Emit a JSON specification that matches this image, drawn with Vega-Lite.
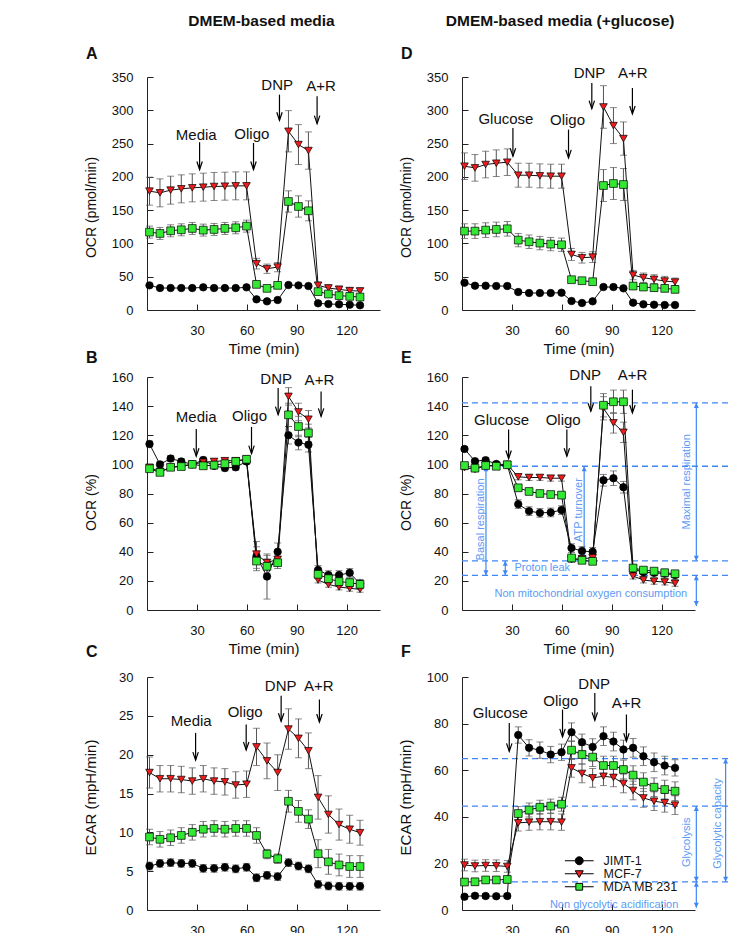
{
"$schema":"https://vega.github.io/schema/vega-lite/v6.json",
"autosize":{"type":"none"},
"padding":{"left":147,"top":77,"right":584,"bottom":856},
"background":"white",
"config":{
 "font":"Liberation Sans",
 "view":{"stroke":null},
 "axis":{"grid":false,"domainColor":"#222","tickColor":"#222","tickSize":-6,"labelFontSize":13,"labelColor":"#111","titleFontSize":15,"titleFontWeight":"normal","titleColor":"#111","labelPadding":20,"labelFlush":false,"labelOverlap":false},
 "axisX":{"titleX":116.5,"titleY":43.5,"titleBaseline":"alphabetic"},
 "axisY":{"titleX":-49,"titleBaseline":"bottom","titleFontSize":14},
 "title":{"anchor":"start","frame":"group","dx":-61,"fontSize":16,"fontWeight":"bold","offset":16,"color":"#111"},
 "text":{"fontSize":15,"color":"#111"}
},
"datasets":{
"pts":[
{"p":"A","s":"J","t":1.5,"v":37,"e":2},{"p":"A","s":"J","t":7.8,"v":33,"e":2},{"p":"A","s":"J","t":14.2,"v":33,"e":2},{"p":"A","s":"J","t":20.6,"v":33,"e":2},{"p":"A","s":"J","t":27.2,"v":33,"e":2},{"p":"A","s":"J","t":33.8,"v":34,"e":2},{"p":"A","s":"J","t":40.3,"v":33,"e":2},{"p":"A","s":"J","t":46.8,"v":33,"e":2},{"p":"A","s":"J","t":53.3,"v":33,"e":2},{"p":"A","s":"J","t":59.8,"v":34,"e":2},{"p":"A","s":"J","t":65.8,"v":16,"e":2},{"p":"A","s":"J","t":72.1,"v":13,"e":2},{"p":"A","s":"J","t":78.5,"v":15,"e":2},{"p":"A","s":"J","t":85,"v":37.5,"e":2},{"p":"A","s":"J","t":91,"v":37,"e":2},{"p":"A","s":"J","t":97,"v":36,"e":2},{"p":"A","s":"J","t":102.8,"v":10,"e":2},{"p":"A","s":"J","t":109,"v":9,"e":2},{"p":"A","s":"J","t":115.4,"v":8.5,"e":2},{"p":"A","s":"J","t":121.8,"v":8,"e":2},{"p":"A","s":"J","t":128,"v":7,"e":2},
{"p":"A","s":"M","t":1.5,"v":178.5,"e":21},{"p":"A","s":"M","t":7.8,"v":176,"e":21},{"p":"A","s":"M","t":14.2,"v":180,"e":21},{"p":"A","s":"M","t":20.6,"v":182,"e":21},{"p":"A","s":"M","t":27.2,"v":183.5,"e":21},{"p":"A","s":"M","t":33.8,"v":184.5,"e":21},{"p":"A","s":"M","t":40.3,"v":185.5,"e":21},{"p":"A","s":"M","t":46.8,"v":186,"e":21},{"p":"A","s":"M","t":53.3,"v":186.5,"e":21},{"p":"A","s":"M","t":59.8,"v":186.5,"e":21},{"p":"A","s":"M","t":65.8,"v":69.6,"e":8},{"p":"A","s":"M","t":72.1,"v":62,"e":7},{"p":"A","s":"M","t":78.5,"v":64.5,"e":7},{"p":"A","s":"M","t":85,"v":268.5,"e":31},{"p":"A","s":"M","t":91,"v":248.5,"e":30},{"p":"A","s":"M","t":97,"v":239.5,"e":28},{"p":"A","s":"M","t":102.8,"v":37,"e":5},{"p":"A","s":"M","t":109,"v":33,"e":5},{"p":"A","s":"M","t":115.4,"v":31,"e":5},{"p":"A","s":"M","t":121.8,"v":29,"e":5},{"p":"A","s":"M","t":128,"v":28.5,"e":5},
{"p":"A","s":"G","t":1.5,"v":117,"e":9},{"p":"A","s":"G","t":7.8,"v":115,"e":9},{"p":"A","s":"G","t":14.2,"v":119,"e":9},{"p":"A","s":"G","t":20.6,"v":120.5,"e":9},{"p":"A","s":"G","t":27.2,"v":122.5,"e":9},{"p":"A","s":"G","t":33.8,"v":120,"e":9},{"p":"A","s":"G","t":40.3,"v":121,"e":9},{"p":"A","s":"G","t":46.8,"v":122.5,"e":9},{"p":"A","s":"G","t":53.3,"v":123.5,"e":9},{"p":"A","s":"G","t":59.8,"v":126,"e":9},{"p":"A","s":"G","t":65.8,"v":38.5,"e":3},{"p":"A","s":"G","t":72.1,"v":32.5,"e":3},{"p":"A","s":"G","t":78.5,"v":37,"e":3},{"p":"A","s":"G","t":85,"v":163,"e":16},{"p":"A","s":"G","t":91,"v":155.5,"e":16},{"p":"A","s":"G","t":97,"v":149,"e":15},{"p":"A","s":"G","t":102.8,"v":27.6,"e":3},{"p":"A","s":"G","t":109,"v":24,"e":3},{"p":"A","s":"G","t":115.4,"v":21.6,"e":3},{"p":"A","s":"G","t":121.8,"v":20.5,"e":3},{"p":"A","s":"G","t":128,"v":19.5,"e":3},
{"p":"B","s":"J","t":1.5,"v":114,"e":2},{"p":"B","s":"J","t":7.8,"v":100,"e":2},{"p":"B","s":"J","t":14.2,"v":104,"e":2},{"p":"B","s":"J","t":20.6,"v":102,"e":2},{"p":"B","s":"J","t":27.2,"v":100,"e":2},{"p":"B","s":"J","t":33.8,"v":103,"e":2},{"p":"B","s":"J","t":40.3,"v":99,"e":2},{"p":"B","s":"J","t":46.8,"v":97.5,"e":2},{"p":"B","s":"J","t":53.3,"v":98,"e":2},{"p":"B","s":"J","t":59.8,"v":102,"e":2},{"p":"B","s":"J","t":65.8,"v":37,"e":10},{"p":"B","s":"J","t":72.1,"v":23,"e":15.5},{"p":"B","s":"J","t":78.5,"v":40,"e":6},{"p":"B","s":"J","t":85,"v":120,"e":6},{"p":"B","s":"J","t":91,"v":115,"e":5},{"p":"B","s":"J","t":97,"v":113.5,"e":5},{"p":"B","s":"J","t":102.8,"v":27.5,"e":3},{"p":"B","s":"J","t":109,"v":24,"e":3},{"p":"B","s":"J","t":115.4,"v":24,"e":3},{"p":"B","s":"J","t":121.8,"v":25.5,"e":3},{"p":"B","s":"J","t":128,"v":18,"e":3},
{"p":"B","s":"M","t":1.5,"v":98,"e":2},{"p":"B","s":"M","t":7.8,"v":95,"e":2},{"p":"B","s":"M","t":14.2,"v":98,"e":2},{"p":"B","s":"M","t":20.6,"v":99,"e":2},{"p":"B","s":"M","t":27.2,"v":100,"e":2},{"p":"B","s":"M","t":33.8,"v":101.5,"e":2},{"p":"B","s":"M","t":40.3,"v":102,"e":2},{"p":"B","s":"M","t":46.8,"v":102.5,"e":2},{"p":"B","s":"M","t":53.3,"v":102.5,"e":2},{"p":"B","s":"M","t":59.8,"v":103.5,"e":2},{"p":"B","s":"M","t":65.8,"v":38.4,"e":5},{"p":"B","s":"M","t":72.1,"v":32.5,"e":5},{"p":"B","s":"M","t":78.5,"v":34.8,"e":4},{"p":"B","s":"M","t":85,"v":146.7,"e":6},{"p":"B","s":"M","t":91,"v":136,"e":6},{"p":"B","s":"M","t":97,"v":131,"e":6},{"p":"B","s":"M","t":102.8,"v":20.6,"e":2},{"p":"B","s":"M","t":109,"v":17.6,"e":2},{"p":"B","s":"M","t":115.4,"v":15.8,"e":2},{"p":"B","s":"M","t":121.8,"v":14.9,"e":2},{"p":"B","s":"M","t":128,"v":14.2,"e":2},
{"p":"B","s":"G","t":1.5,"v":97,"e":2},{"p":"B","s":"G","t":7.8,"v":94.5,"e":2},{"p":"B","s":"G","t":14.2,"v":98,"e":2},{"p":"B","s":"G","t":20.6,"v":98.5,"e":2},{"p":"B","s":"G","t":27.2,"v":100,"e":2},{"p":"B","s":"G","t":33.8,"v":99,"e":2},{"p":"B","s":"G","t":40.3,"v":99.5,"e":2},{"p":"B","s":"G","t":46.8,"v":100.5,"e":2},{"p":"B","s":"G","t":53.3,"v":102,"e":2},{"p":"B","s":"G","t":59.8,"v":103.5,"e":2},{"p":"B","s":"G","t":65.8,"v":33.6,"e":5},{"p":"B","s":"G","t":72.1,"v":30,"e":5},{"p":"B","s":"G","t":78.5,"v":32.5,"e":4},{"p":"B","s":"G","t":85,"v":134,"e":8},{"p":"B","s":"G","t":91,"v":126,"e":7},{"p":"B","s":"G","t":97,"v":121.6,"e":6},{"p":"B","s":"G","t":102.8,"v":24.5,"e":3},{"p":"B","s":"G","t":109,"v":21.5,"e":3},{"p":"B","s":"G","t":115.4,"v":19.5,"e":3},{"p":"B","s":"G","t":121.8,"v":18.8,"e":3},{"p":"B","s":"G","t":128,"v":17.6,"e":3},
{"p":"C","s":"J","t":1.5,"v":5.66,"e":0.5},{"p":"C","s":"J","t":7.8,"v":6,"e":0.5},{"p":"C","s":"J","t":14.2,"v":6.1,"e":0.5},{"p":"C","s":"J","t":20.6,"v":6,"e":0.5},{"p":"C","s":"J","t":27.2,"v":6,"e":0.5},{"p":"C","s":"J","t":33.8,"v":5.36,"e":0.5},{"p":"C","s":"J","t":40.3,"v":5.36,"e":0.5},{"p":"C","s":"J","t":46.8,"v":5.5,"e":0.5},{"p":"C","s":"J","t":53.3,"v":5.3,"e":0.5},{"p":"C","s":"J","t":59.8,"v":5.5,"e":0.5},{"p":"C","s":"J","t":65.8,"v":4.15,"e":0.5},{"p":"C","s":"J","t":72.1,"v":4.46,"e":0.5},{"p":"C","s":"J","t":78.5,"v":4.3,"e":0.5},{"p":"C","s":"J","t":85,"v":6.1,"e":0.5},{"p":"C","s":"J","t":91,"v":5.66,"e":0.5},{"p":"C","s":"J","t":97,"v":5.3,"e":0.5},{"p":"C","s":"J","t":102.8,"v":3.3,"e":0.5},{"p":"C","s":"J","t":109,"v":3.1,"e":0.5},{"p":"C","s":"J","t":115.4,"v":3.05,"e":0.5},{"p":"C","s":"J","t":121.8,"v":3.05,"e":0.5},{"p":"C","s":"J","t":128,"v":3.05,"e":0.5},
{"p":"C","s":"M","t":1.5,"v":17.7,"e":2},{"p":"C","s":"M","t":7.8,"v":16.9,"e":1.7},{"p":"C","s":"M","t":14.2,"v":16.9,"e":1.7},{"p":"C","s":"M","t":20.6,"v":16.8,"e":1.7},{"p":"C","s":"M","t":27.2,"v":16.6,"e":1.7},{"p":"C","s":"M","t":33.8,"v":16.9,"e":1.7},{"p":"C","s":"M","t":40.3,"v":16.6,"e":1.7},{"p":"C","s":"M","t":46.8,"v":16.5,"e":1.7},{"p":"C","s":"M","t":53.3,"v":16.1,"e":1.7},{"p":"C","s":"M","t":59.8,"v":16.2,"e":1.7},{"p":"C","s":"M","t":65.8,"v":21,"e":2.4},{"p":"C","s":"M","t":72.1,"v":19.2,"e":2.3},{"p":"C","s":"M","t":78.5,"v":17.7,"e":2.3},{"p":"C","s":"M","t":85,"v":23.3,"e":2.6},{"p":"C","s":"M","t":91,"v":22.1,"e":2.5},{"p":"C","s":"M","t":97,"v":20.5,"e":2.3},{"p":"C","s":"M","t":102.8,"v":14.5,"e":2.8},{"p":"C","s":"M","t":109,"v":12.3,"e":2.4},{"p":"C","s":"M","t":115.4,"v":11,"e":2},{"p":"C","s":"M","t":121.8,"v":10.4,"e":1.8},{"p":"C","s":"M","t":128,"v":9.95,"e":1.6},
{"p":"C","s":"G","t":1.5,"v":9.4,"e":1},{"p":"C","s":"G","t":7.8,"v":9.1,"e":1},{"p":"C","s":"G","t":14.2,"v":9.3,"e":1},{"p":"C","s":"G","t":20.6,"v":9.6,"e":1},{"p":"C","s":"G","t":27.2,"v":10,"e":1},{"p":"C","s":"G","t":33.8,"v":10.4,"e":1},{"p":"C","s":"G","t":40.3,"v":10.5,"e":1},{"p":"C","s":"G","t":46.8,"v":10.4,"e":1},{"p":"C","s":"G","t":53.3,"v":10.5,"e":1},{"p":"C","s":"G","t":59.8,"v":10.5,"e":1},{"p":"C","s":"G","t":65.8,"v":9.6,"e":1},{"p":"C","s":"G","t":72.1,"v":7.2,"e":0.6},{"p":"C","s":"G","t":78.5,"v":6.6,"e":0.6},{"p":"C","s":"G","t":85,"v":14,"e":1.4},{"p":"C","s":"G","t":91,"v":12.7,"e":1.4},{"p":"C","s":"G","t":97,"v":11.7,"e":1.2},{"p":"C","s":"G","t":102.8,"v":7.25,"e":1.8},{"p":"C","s":"G","t":109,"v":6.2,"e":1.6},{"p":"C","s":"G","t":115.4,"v":5.8,"e":1.4},{"p":"C","s":"G","t":121.8,"v":5.6,"e":1.4},{"p":"C","s":"G","t":128,"v":5.6,"e":1.4},
{"p":"D","s":"J","t":1.5,"v":41,"e":2},{"p":"D","s":"J","t":7.8,"v":36.5,"e":2},{"p":"D","s":"J","t":14.2,"v":36.5,"e":2},{"p":"D","s":"J","t":20.6,"v":36,"e":2},{"p":"D","s":"J","t":27.2,"v":36,"e":2},{"p":"D","s":"J","t":33.8,"v":27,"e":2},{"p":"D","s":"J","t":40.3,"v":25.5,"e":2},{"p":"D","s":"J","t":46.8,"v":25.5,"e":2},{"p":"D","s":"J","t":53.3,"v":25.5,"e":2},{"p":"D","s":"J","t":59.8,"v":26,"e":2},{"p":"D","s":"J","t":65.8,"v":13.5,"e":2},{"p":"D","s":"J","t":72.1,"v":10.5,"e":2},{"p":"D","s":"J","t":78.5,"v":13,"e":2},{"p":"D","s":"J","t":85,"v":34.5,"e":2},{"p":"D","s":"J","t":91,"v":34.5,"e":2},{"p":"D","s":"J","t":97,"v":32.5,"e":2},{"p":"D","s":"J","t":102.8,"v":11,"e":2},{"p":"D","s":"J","t":109,"v":8.5,"e":2},{"p":"D","s":"J","t":115.4,"v":8,"e":2},{"p":"D","s":"J","t":121.8,"v":7.5,"e":2},{"p":"D","s":"J","t":128,"v":7.5,"e":2},
{"p":"D","s":"M","t":1.5,"v":216,"e":20},{"p":"D","s":"M","t":7.8,"v":213.5,"e":20},{"p":"D","s":"M","t":14.2,"v":218.5,"e":20},{"p":"D","s":"M","t":20.6,"v":220.5,"e":20},{"p":"D","s":"M","t":27.2,"v":222,"e":20},{"p":"D","s":"M","t":33.8,"v":202.5,"e":18},{"p":"D","s":"M","t":40.3,"v":202.5,"e":18},{"p":"D","s":"M","t":46.8,"v":201.5,"e":18},{"p":"D","s":"M","t":53.3,"v":201,"e":18},{"p":"D","s":"M","t":59.8,"v":201,"e":18},{"p":"D","s":"M","t":65.8,"v":83.5,"e":9},{"p":"D","s":"M","t":72.1,"v":78.5,"e":8},{"p":"D","s":"M","t":78.5,"v":79.5,"e":8},{"p":"D","s":"M","t":85,"v":305,"e":32},{"p":"D","s":"M","t":91,"v":277,"e":27},{"p":"D","s":"M","t":97,"v":257.5,"e":25},{"p":"D","s":"M","t":102.8,"v":52.5,"e":7},{"p":"D","s":"M","t":109,"v":48.5,"e":7},{"p":"D","s":"M","t":115.4,"v":46,"e":7},{"p":"D","s":"M","t":121.8,"v":43.5,"e":7},{"p":"D","s":"M","t":128,"v":42,"e":6},
{"p":"D","s":"G","t":1.5,"v":118.5,"e":11},{"p":"D","s":"G","t":7.8,"v":118.5,"e":11},{"p":"D","s":"G","t":14.2,"v":120,"e":11},{"p":"D","s":"G","t":20.6,"v":121,"e":11},{"p":"D","s":"G","t":27.2,"v":122,"e":11},{"p":"D","s":"G","t":33.8,"v":105,"e":10},{"p":"D","s":"G","t":40.3,"v":102.5,"e":10},{"p":"D","s":"G","t":46.8,"v":100.5,"e":10},{"p":"D","s":"G","t":53.3,"v":99,"e":10},{"p":"D","s":"G","t":59.8,"v":98,"e":10},{"p":"D","s":"G","t":65.8,"v":45.5,"e":4},{"p":"D","s":"G","t":72.1,"v":44,"e":4},{"p":"D","s":"G","t":78.5,"v":42.5,"e":4},{"p":"D","s":"G","t":85,"v":187,"e":24},{"p":"D","s":"G","t":91,"v":190,"e":24},{"p":"D","s":"G","t":97,"v":188.5,"e":24},{"p":"D","s":"G","t":102.8,"v":36,"e":5},{"p":"D","s":"G","t":109,"v":34.5,"e":5},{"p":"D","s":"G","t":115.4,"v":33.5,"e":5},{"p":"D","s":"G","t":121.8,"v":32.5,"e":5},{"p":"D","s":"G","t":128,"v":31,"e":5},
{"p":"E","s":"J","t":1.5,"v":110.6,"e":1.5},{"p":"E","s":"J","t":7.8,"v":102.2,"e":1.5},{"p":"E","s":"J","t":14.2,"v":102.9,"e":1.5},{"p":"E","s":"J","t":20.6,"v":100.3,"e":1.5},{"p":"E","s":"J","t":27.2,"v":99.7,"e":1.5},{"p":"E","s":"J","t":33.8,"v":72.7,"e":3},{"p":"E","s":"J","t":40.3,"v":67.9,"e":3},{"p":"E","s":"J","t":46.8,"v":66.7,"e":3},{"p":"E","s":"J","t":53.3,"v":67,"e":3},{"p":"E","s":"J","t":59.8,"v":68.6,"e":3},{"p":"E","s":"J","t":65.8,"v":42.5,"e":3},{"p":"E","s":"J","t":72.1,"v":40.5,"e":3},{"p":"E","s":"J","t":78.5,"v":40,"e":3},{"p":"E","s":"J","t":85,"v":89.1,"e":4},{"p":"E","s":"J","t":91,"v":90.5,"e":5},{"p":"E","s":"J","t":97,"v":84.3,"e":4},{"p":"E","s":"J","t":102.8,"v":28,"e":3},{"p":"E","s":"J","t":109,"v":26,"e":3},{"p":"E","s":"J","t":115.4,"v":25.5,"e":3},{"p":"E","s":"J","t":121.8,"v":25,"e":3},{"p":"E","s":"J","t":128,"v":24,"e":3},
{"p":"E","s":"M","t":1.5,"v":97.8,"e":1.5},{"p":"E","s":"M","t":7.8,"v":96.5,"e":1.5},{"p":"E","s":"M","t":14.2,"v":99.2,"e":1.5},{"p":"E","s":"M","t":20.6,"v":99.2,"e":1.5},{"p":"E","s":"M","t":27.2,"v":100,"e":1.5},{"p":"E","s":"M","t":33.8,"v":91.4,"e":2},{"p":"E","s":"M","t":40.3,"v":91,"e":2},{"p":"E","s":"M","t":46.8,"v":91,"e":2},{"p":"E","s":"M","t":53.3,"v":90.5,"e":2},{"p":"E","s":"M","t":59.8,"v":90.5,"e":2},{"p":"E","s":"M","t":65.8,"v":34.7,"e":2},{"p":"E","s":"M","t":72.1,"v":35.2,"e":2},{"p":"E","s":"M","t":78.5,"v":35.9,"e":2},{"p":"E","s":"M","t":85,"v":138.5,"e":8},{"p":"E","s":"M","t":91,"v":128.5,"e":7},{"p":"E","s":"M","t":97,"v":122,"e":7},{"p":"E","s":"M","t":102.8,"v":23.3,"e":2},{"p":"E","s":"M","t":109,"v":20.6,"e":2},{"p":"E","s":"M","t":115.4,"v":19.7,"e":2},{"p":"E","s":"M","t":121.8,"v":19.2,"e":2},{"p":"E","s":"M","t":128,"v":18.3,"e":2},
{"p":"E","s":"G","t":1.5,"v":99.2,"e":1.5},{"p":"E","s":"G","t":7.8,"v":97.4,"e":1.5},{"p":"E","s":"G","t":14.2,"v":99.2,"e":1.5},{"p":"E","s":"G","t":20.6,"v":98.7,"e":1.5},{"p":"E","s":"G","t":27.2,"v":99.7,"e":1.5},{"p":"E","s":"G","t":33.8,"v":83.9,"e":2},{"p":"E","s":"G","t":40.3,"v":81.4,"e":2},{"p":"E","s":"G","t":46.8,"v":80,"e":2},{"p":"E","s":"G","t":53.3,"v":79.3,"e":2},{"p":"E","s":"G","t":59.8,"v":78.9,"e":2},{"p":"E","s":"G","t":65.8,"v":35.7,"e":2},{"p":"E","s":"G","t":72.1,"v":34.1,"e":2},{"p":"E","s":"G","t":78.5,"v":33.4,"e":2},{"p":"E","s":"G","t":85,"v":140.6,"e":8},{"p":"E","s":"G","t":91,"v":143,"e":8},{"p":"E","s":"G","t":97,"v":143,"e":8},{"p":"E","s":"G","t":102.8,"v":28.8,"e":2},{"p":"E","s":"G","t":109,"v":27.4,"e":2},{"p":"E","s":"G","t":115.4,"v":26.7,"e":2},{"p":"E","s":"G","t":121.8,"v":25.6,"e":2},{"p":"E","s":"G","t":128,"v":24.9,"e":2},
{"p":"F","s":"J","t":1.5,"v":5.7,"e":1},{"p":"F","s":"J","t":7.8,"v":6.1,"e":1},{"p":"F","s":"J","t":14.2,"v":6,"e":1},{"p":"F","s":"J","t":20.6,"v":5.9,"e":1},{"p":"F","s":"J","t":27.2,"v":6,"e":1},{"p":"F","s":"J","t":33.8,"v":75.1,"e":3.5},{"p":"F","s":"J","t":40.3,"v":69.6,"e":3.5},{"p":"F","s":"J","t":46.8,"v":68.6,"e":3.5},{"p":"F","s":"J","t":53.3,"v":66.7,"e":3.5},{"p":"F","s":"J","t":59.8,"v":67.7,"e":3.5},{"p":"F","s":"J","t":65.8,"v":76.3,"e":4},{"p":"F","s":"J","t":72.1,"v":72,"e":3.5},{"p":"F","s":"J","t":78.5,"v":70,"e":3.5},{"p":"F","s":"J","t":85,"v":74.6,"e":4},{"p":"F","s":"J","t":91,"v":72.3,"e":4},{"p":"F","s":"J","t":97,"v":68.9,"e":4},{"p":"F","s":"J","t":102.8,"v":69.6,"e":4},{"p":"F","s":"J","t":109,"v":66,"e":4},{"p":"F","s":"J","t":115.4,"v":63.4,"e":4},{"p":"F","s":"J","t":121.8,"v":62,"e":4},{"p":"F","s":"J","t":128,"v":61,"e":3.5},
{"p":"F","s":"M","t":1.5,"v":19.3,"e":2.5},{"p":"F","s":"M","t":7.8,"v":18.9,"e":2.5},{"p":"F","s":"M","t":14.2,"v":19.1,"e":2.5},{"p":"F","s":"M","t":20.6,"v":19,"e":2.5},{"p":"F","s":"M","t":27.2,"v":18.7,"e":2.5},{"p":"F","s":"M","t":33.8,"v":37.4,"e":3.5},{"p":"F","s":"M","t":40.3,"v":37.7,"e":3.5},{"p":"F","s":"M","t":46.8,"v":37.9,"e":3.5},{"p":"F","s":"M","t":53.3,"v":37.9,"e":3.5},{"p":"F","s":"M","t":59.8,"v":37.7,"e":3.5},{"p":"F","s":"M","t":65.8,"v":61,"e":4},{"p":"F","s":"M","t":72.1,"v":58.6,"e":4},{"p":"F","s":"M","t":78.5,"v":56.7,"e":4},{"p":"F","s":"M","t":85,"v":57.4,"e":4},{"p":"F","s":"M","t":91,"v":56.9,"e":4},{"p":"F","s":"M","t":97,"v":54.3,"e":4},{"p":"F","s":"M","t":102.8,"v":51.3,"e":4},{"p":"F","s":"M","t":109,"v":48.1,"e":4},{"p":"F","s":"M","t":115.4,"v":46.7,"e":4},{"p":"F","s":"M","t":121.8,"v":46,"e":4},{"p":"F","s":"M","t":128,"v":45,"e":4},
{"p":"F","s":"G","t":1.5,"v":12,"e":1.5},{"p":"F","s":"G","t":7.8,"v":12.1,"e":1.5},{"p":"F","s":"G","t":14.2,"v":12.9,"e":1.5},{"p":"F","s":"G","t":20.6,"v":12.9,"e":1.5},{"p":"F","s":"G","t":27.2,"v":13.1,"e":1.5},{"p":"F","s":"G","t":33.8,"v":41.4,"e":3},{"p":"F","s":"G","t":40.3,"v":42.9,"e":3},{"p":"F","s":"G","t":46.8,"v":44.1,"e":3},{"p":"F","s":"G","t":53.3,"v":44.6,"e":3},{"p":"F","s":"G","t":59.8,"v":45.4,"e":3},{"p":"F","s":"G","t":65.8,"v":68.6,"e":4},{"p":"F","s":"G","t":72.1,"v":66.7,"e":4},{"p":"F","s":"G","t":78.5,"v":65.6,"e":4},{"p":"F","s":"G","t":85,"v":62,"e":4},{"p":"F","s":"G","t":91,"v":62,"e":4},{"p":"F","s":"G","t":97,"v":60.3,"e":4},{"p":"F","s":"G","t":102.8,"v":57.9,"e":4},{"p":"F","s":"G","t":109,"v":54.9,"e":4},{"p":"F","s":"G","t":115.4,"v":52.7,"e":4},{"p":"F","s":"G","t":121.8,"v":51.7,"e":4},{"p":"F","s":"G","t":128,"v":51,"e":4}
],
"ann":[
{"p":"A","label":"Media","t":29.6,"v":263.5},{"p":"A","label":"Oligo","t":63,"v":265},{"p":"A","label":"DNP","t":78.2,"v":338.5},{"p":"A","label":"A+R","t":104.6,"v":337},
{"p":"B","label":"Media","t":29.6,"v":132.6},{"p":"B","label":"Oligo","t":61.6,"v":133},{"p":"B","label":"DNP","t":77.6,"v":158.9},{"p":"B","label":"A+R","t":103.6,"v":158},
{"p":"C","label":"Media","t":26.6,"v":24.3},{"p":"C","label":"Oligo","t":59,"v":25.5},{"p":"C","label":"DNP","t":80.3,"v":28.9},{"p":"C","label":"A+R","t":103.2,"v":28.8},
{"p":"D","label":"Glucose","t":26.4,"v":287.5},{"p":"D","label":"Oligo","t":63.4,"v":285},{"p":"D","label":"DNP","t":76.6,"v":356},{"p":"D","label":"A+R","t":102.6,"v":356},
{"p":"E","label":"Glucose","t":23.8,"v":130.3},{"p":"E","label":"Oligo","t":60.8,"v":130.3},{"p":"E","label":"DNP","t":74,"v":161.6},{"p":"E","label":"A+R","t":102.4,"v":161.6},
{"p":"F","label":"Glucose","t":23,"v":84.6},{"p":"F","label":"Oligo","t":59.4,"v":89.6},{"p":"F","label":"DNP","t":79.4,"v":97.1},{"p":"F","label":"A+R","t":98.8,"v":88.9}
],
"arr":[
{"p":"A","t":31.6,"v":252,"v2":211},{"p":"A","t":64,"v":251,"v2":211},{"p":"A","t":79.6,"v":323.5,"v2":285},{"p":"A","t":102.2,"v":321,"v2":280},
{"p":"B","t":29.6,"v":124.3,"v2":105.6},{"p":"B","t":62.8,"v":125.7,"v2":107.4},{"p":"B","t":78.8,"v":152.5,"v2":134.2},{"p":"B","t":104.6,"v":150,"v2":133},
{"p":"C","t":29.2,"v":22.8,"v2":19.3},{"p":"C","t":59.6,"v":23.9,"v2":20.6},{"p":"C","t":80.6,"v":27.6,"v2":24.3},{"p":"C","t":103.6,"v":27.1,"v2":24.2},
{"p":"D","t":30.6,"v":273.5,"v2":231},{"p":"D","t":64,"v":271,"v2":228.5},{"p":"D","t":78,"v":341,"v2":302.5},{"p":"D","t":102.4,"v":333.5,"v2":294.5},
{"p":"E","t":28,"v":123.9,"v2":104},{"p":"E","t":63,"v":124,"v2":105.6},{"p":"E","t":77.4,"v":153.6,"v2":136.5},{"p":"E","t":102.4,"v":151.3,"v2":135.3},
{"p":"F","t":28.4,"v":80.3,"v2":68.1},{"p":"F","t":60.4,"v":86,"v2":74.3},{"p":"F","t":79.8,"v":93.1,"v2":81.4},{"p":"F","t":98.8,"v":83.9,"v2":72.4}
],
"bl":[
{"p":"E","v":142.2,"t":0,"t2":162},{"p":"E","v":98.7,"t":0,"t2":162},{"p":"E","v":33.8,"t":0,"t2":162},{"p":"E","v":23.8,"t":0,"t2":162},
{"p":"F","v":65,"t":0,"t2":162},{"p":"F","v":44.6,"t":0,"t2":162},{"p":"F","v":12.1,"t":0,"t2":162}
],
"ba":[
{"p":"E","t":14.4,"v":98.7,"v2":23.8},{"p":"E","t":26,"v":33.8,"v2":23.8},{"p":"E","t":73.4,"v":98.7,"v2":33.8},{"p":"E","t":140.8,"v":142.2,"v2":33.8},{"p":"E","t":140.8,"v":23.8,"v2":2.7},
{"p":"F","t":140.8,"v":44.6,"v2":12.1},{"p":"F","t":158.4,"v":65,"v2":12.1},{"p":"F","t":140.8,"v":12.1,"v2":1}
],
"bt":[
{"p":"E","label":"Basal respiration","t":11.4,"v":62.2,"a":270},{"p":"E","label":"Proton leak","t":48.2,"v":29,"a":0},{"p":"E","label":"ATP turnover","t":70.4,"v":68.6,"a":270},{"p":"E","label":"Maximal respiration","t":135.4,"v":88,"a":270},{"p":"E","label":"Non mitochondrial oxygen consumption","t":77.4,"v":11.2,"a":0},
{"p":"F","label":"Glycolysis","t":135.4,"v":29.1,"a":270},{"p":"F","label":"Glycolytic capacity","t":153.8,"v":37.1,"a":270},{"p":"F","label":"Non glycolytic acidification","t":91.4,"v":2.1,"a":0}
],
"leg":[{"s":"JIMT-1","t":50,"v":-50},{"s":"MCF-7","t":50,"v":-50},{"s":"MDA MB 231","t":50,"v":-50}]
},
"bounds":"full",
"spacing":18,
"hconcat":[
{"bounds":"flush","spacing":67,
 "title":{"text":"DMEM-based media","anchor":"middle","frame":"bounds","dx":30,"fontSize":15.5,"fontWeight":"bold","offset":17},
 "vconcat":[
 {"width":233,"height":233,"title":{"text":"A","offset":9},
  "encoding":{"x":{"field":"t","type":"quantitative","scale":{"domain":[0,140],"nice":false},"axis":{"values":[30,60,90,120],"title":"Time (min)"}},
   "y":{"field":"v","type":"quantitative","scale":{"domain":[0,350],"nice":false},"axis":{"values":[0,50,100,150,200,250,300,350],"title":"OCR (pmol/min)","titleY":130}}},
  "layer":[
   {"data":{"name":"pts"},"transform":[{"filter":"datum.p=='A'"}],"mark":{"type":"errorbar","ticks":true,"size":7,"thickness":1,"color":"#555"},"encoding":{"yError":{"field":"e"}}},
   {"data":{"name":"pts"},"transform":[{"filter":"datum.p=='A'"}],"mark":{"type":"line","color":"#111","strokeWidth":1},"encoding":{"detail":{"field":"s"}}},
   {"data":{"name":"pts"},"transform":[{"filter":"datum.p=='A'"}],"mark":{"type":"point","filled":true,"stroke":"#000","strokeWidth":0.7,"opacity":1},"encoding":{"shape":{"field":"s","type":"nominal","scale":{"domain":["J","M","G"],"range":["circle","triangle-down","square"]},"legend":null},"fill":{"field":"s","type":"nominal","scale":{"domain":["J","M","G"],"range":["#000000","#ee1c1c","#33e833"]},"legend":null},"size":{"field":"s","type":"nominal","scale":{"domain":["J","M","G"],"range":[56,60,42]},"legend":null}}},
   {"data":{"name":"arr"},"transform":[{"filter":"datum.p=='A'"}],"mark":{"type":"rule","color":"#000","strokeWidth":1.2},"encoding":{"y2":{"field":"v2"}}},
   {"data":{"name":"arr"},"transform":[{"filter":"datum.p=='A'"}],"mark":{"type":"point","shape":"M-0.34,-1L0,0L0.34,-1","filled":false,"stroke":"#000","strokeWidth":1.2,"size":256,"opacity":1},"encoding":{"y":{"field":"v2","type":"quantitative"}}},
   {"data":{"name":"ann"},"transform":[{"filter":"datum.p=='A'"}],"mark":{"type":"text"},"encoding":{"text":{"field":"label"}}}
  ]},
 {"width":233,"height":233,"title":{"text":"B","offset":5},
  "encoding":{"x":{"field":"t","type":"quantitative","scale":{"domain":[0,140],"nice":false},"axis":{"values":[30,60,90,120],"title":"Time (min)"}},
   "y":{"field":"v","type":"quantitative","scale":{"domain":[0,160],"nice":false},"axis":{"values":[0,20,40,60,80,100,120,140,160],"title":"OCR (%)","titleY":125}}},
  "layer":[
   {"data":{"name":"pts"},"transform":[{"filter":"datum.p=='B'"}],"mark":{"type":"errorbar","ticks":true,"size":7,"thickness":1,"color":"#555"},"encoding":{"yError":{"field":"e"}}},
   {"data":{"name":"pts"},"transform":[{"filter":"datum.p=='B'"}],"mark":{"type":"line","color":"#111","strokeWidth":1},"encoding":{"detail":{"field":"s"}}},
   {"data":{"name":"pts"},"transform":[{"filter":"datum.p=='B'"}],"mark":{"type":"point","filled":true,"stroke":"#000","strokeWidth":0.7,"opacity":1},"encoding":{"shape":{"field":"s","type":"nominal","scale":{"domain":["J","M","G"],"range":["circle","triangle-down","square"]},"legend":null},"fill":{"field":"s","type":"nominal","scale":{"domain":["J","M","G"],"range":["#000000","#ee1c1c","#33e833"]},"legend":null},"size":{"field":"s","type":"nominal","scale":{"domain":["J","M","G"],"range":[56,60,42]},"legend":null}}},
   {"data":{"name":"arr"},"transform":[{"filter":"datum.p=='B'"}],"mark":{"type":"rule","color":"#000","strokeWidth":1.2},"encoding":{"y2":{"field":"v2"}}},
   {"data":{"name":"arr"},"transform":[{"filter":"datum.p=='B'"}],"mark":{"type":"point","shape":"M-0.34,-1L0,0L0.34,-1","filled":false,"stroke":"#000","strokeWidth":1.2,"size":256,"opacity":1},"encoding":{"y":{"field":"v2","type":"quantitative"}}},
   {"data":{"name":"ann"},"transform":[{"filter":"datum.p=='B'"}],"mark":{"type":"text"},"encoding":{"text":{"field":"label"}}}
  ]},
 {"width":233,"height":233,"title":{"text":"C","offset":11},
  "encoding":{"x":{"field":"t","type":"quantitative","scale":{"domain":[0,140],"nice":false},"axis":{"values":[30,60,90,120],"title":"Time (min)"}},
   "y":{"field":"v","type":"quantitative","scale":{"domain":[0,30],"nice":false},"axis":{"values":[0,5,10,15,20,25,30],"title":"ECAR (mpH/min)","titleY":120,"titleFontSize":15}}},
  "layer":[
   {"data":{"name":"pts"},"transform":[{"filter":"datum.p=='C'"}],"mark":{"type":"errorbar","ticks":true,"size":7,"thickness":1,"color":"#555"},"encoding":{"yError":{"field":"e"}}},
   {"data":{"name":"pts"},"transform":[{"filter":"datum.p=='C'"}],"mark":{"type":"line","color":"#111","strokeWidth":1},"encoding":{"detail":{"field":"s"}}},
   {"data":{"name":"pts"},"transform":[{"filter":"datum.p=='C'"}],"mark":{"type":"point","filled":true,"stroke":"#000","strokeWidth":0.7,"opacity":1},"encoding":{"shape":{"field":"s","type":"nominal","scale":{"domain":["J","M","G"],"range":["circle","triangle-down","square"]},"legend":null},"fill":{"field":"s","type":"nominal","scale":{"domain":["J","M","G"],"range":["#000000","#ee1c1c","#33e833"]},"legend":null},"size":{"field":"s","type":"nominal","scale":{"domain":["J","M","G"],"range":[56,60,42]},"legend":null}}},
   {"data":{"name":"arr"},"transform":[{"filter":"datum.p=='C'"}],"mark":{"type":"rule","color":"#000","strokeWidth":1.2},"encoding":{"y2":{"field":"v2"}}},
   {"data":{"name":"arr"},"transform":[{"filter":"datum.p=='C'"}],"mark":{"type":"point","shape":"M-0.34,-1L0,0L0.34,-1","filled":false,"stroke":"#000","strokeWidth":1.2,"size":256,"opacity":1},"encoding":{"y":{"field":"v2","type":"quantitative"}}},
   {"data":{"name":"ann"},"transform":[{"filter":"datum.p=='C'"}],"mark":{"type":"text"},"encoding":{"text":{"field":"label"}}}
  ]}
 ]},
{"bounds":"flush","spacing":67,
 "title":{"text":"DMEM-based media (+glucose)","anchor":"middle","frame":"bounds","dx":-5,"fontSize":15.5,"fontWeight":"bold","offset":17},
 "vconcat":[
 {"width":233,"height":233,"title":{"text":"D","offset":4},
  "encoding":{"x":{"field":"t","type":"quantitative","scale":{"domain":[0,140],"nice":false},"axis":{"values":[30,60,90,120],"title":"Time (min)"}},
   "y":{"field":"v","type":"quantitative","scale":{"domain":[0,350],"nice":false},"axis":{"values":[0,50,100,150,200,250,300,350],"title":"OCR (pmol/min)","titleY":130}}},
  "layer":[
   {"data":{"name":"pts"},"transform":[{"filter":"datum.p=='D'"}],"mark":{"type":"errorbar","ticks":true,"size":7,"thickness":1,"color":"#555"},"encoding":{"yError":{"field":"e"}}},
   {"data":{"name":"pts"},"transform":[{"filter":"datum.p=='D'"}],"mark":{"type":"line","color":"#111","strokeWidth":1},"encoding":{"detail":{"field":"s"}}},
   {"data":{"name":"pts"},"transform":[{"filter":"datum.p=='D'"}],"mark":{"type":"point","filled":true,"stroke":"#000","strokeWidth":0.7,"opacity":1},"encoding":{"shape":{"field":"s","type":"nominal","scale":{"domain":["J","M","G"],"range":["circle","triangle-down","square"]},"legend":null},"fill":{"field":"s","type":"nominal","scale":{"domain":["J","M","G"],"range":["#000000","#ee1c1c","#33e833"]},"legend":null},"size":{"field":"s","type":"nominal","scale":{"domain":["J","M","G"],"range":[56,60,42]},"legend":null}}},
   {"data":{"name":"arr"},"transform":[{"filter":"datum.p=='D'"}],"mark":{"type":"rule","color":"#000","strokeWidth":1.2},"encoding":{"y2":{"field":"v2"}}},
   {"data":{"name":"arr"},"transform":[{"filter":"datum.p=='D'"}],"mark":{"type":"point","shape":"M-0.34,-1L0,0L0.34,-1","filled":false,"stroke":"#000","strokeWidth":1.2,"size":256,"opacity":1},"encoding":{"y":{"field":"v2","type":"quantitative"}}},
   {"data":{"name":"ann"},"transform":[{"filter":"datum.p=='D'"}],"mark":{"type":"text"},"encoding":{"text":{"field":"label"}}}
  ]},
 {"width":233,"height":233,"title":{"text":"E","offset":2},
  "encoding":{"x":{"field":"t","type":"quantitative","scale":{"domain":[0,140],"nice":false},"axis":{"values":[30,60,90,120],"title":"Time (min)"}},
   "y":{"field":"v","type":"quantitative","scale":{"domain":[0,160],"nice":false},"axis":{"values":[0,20,40,60,80,100,120,140,160],"title":"OCR (%)","titleY":125}}},
  "layer":[
   {"data":{"name":"bl"},"transform":[{"filter":"datum.p=='E'"}],"mark":{"type":"rule","color":"#3f87f5","strokeWidth":1.3,"strokeDash":[6,4]},"encoding":{"x2":{"field":"t2"}}},
   {"data":{"name":"ba"},"transform":[{"filter":"datum.p=='E'"}],"mark":{"type":"rule","color":"#3f87f5","strokeWidth":1.2},"encoding":{"y2":{"field":"v2"}}},
   {"data":{"name":"ba"},"transform":[{"filter":"datum.p=='E'"}],"mark":{"type":"point","shape":"M-0.5,1L0,0L0.5,1Z","filled":true,"color":"#3f87f5","size":100,"opacity":1}},
   {"data":{"name":"ba"},"transform":[{"filter":"datum.p=='E'"}],"mark":{"type":"point","shape":"M-0.5,-1L0,0L0.5,-1Z","filled":true,"color":"#3f87f5","size":100,"opacity":1},"encoding":{"y":{"field":"v2","type":"quantitative"}}},
   {"data":{"name":"bt"},"transform":[{"filter":"datum.p=='E'"}],"mark":{"type":"text","fontSize":11,"color":"#5b9cf6"},"encoding":{"text":{"field":"label"},"angle":{"field":"a","type":"quantitative","scale":null}}},
   {"data":{"name":"pts"},"transform":[{"filter":"datum.p=='E'"}],"mark":{"type":"errorbar","ticks":true,"size":7,"thickness":1,"color":"#555"},"encoding":{"yError":{"field":"e"}}},
   {"data":{"name":"pts"},"transform":[{"filter":"datum.p=='E'"}],"mark":{"type":"line","color":"#111","strokeWidth":1},"encoding":{"detail":{"field":"s"}}},
   {"data":{"name":"pts"},"transform":[{"filter":"datum.p=='E'"}],"mark":{"type":"point","filled":true,"stroke":"#000","strokeWidth":0.7,"opacity":1},"encoding":{"shape":{"field":"s","type":"nominal","scale":{"domain":["J","M","G"],"range":["circle","triangle-down","square"]},"legend":null},"fill":{"field":"s","type":"nominal","scale":{"domain":["J","M","G"],"range":["#000000","#ee1c1c","#33e833"]},"legend":null},"size":{"field":"s","type":"nominal","scale":{"domain":["J","M","G"],"range":[56,60,42]},"legend":null}}},
   {"data":{"name":"arr"},"transform":[{"filter":"datum.p=='E'"}],"mark":{"type":"rule","color":"#000","strokeWidth":1.2},"encoding":{"y2":{"field":"v2"}}},
   {"data":{"name":"arr"},"transform":[{"filter":"datum.p=='E'"}],"mark":{"type":"point","shape":"M-0.34,-1L0,0L0.34,-1","filled":false,"stroke":"#000","strokeWidth":1.2,"size":256,"opacity":1},"encoding":{"y":{"field":"v2","type":"quantitative"}}},
   {"data":{"name":"ann"},"transform":[{"filter":"datum.p=='E'"}],"mark":{"type":"text"},"encoding":{"text":{"field":"label"}}}
  ]},
 {"width":233,"height":233,"title":{"text":"F","offset":11},
  "resolve":{"scale":{"shape":"independent","fill":"independent","stroke":"independent"}},
  "encoding":{"x":{"field":"t","type":"quantitative","scale":{"domain":[0,140],"nice":false},"axis":{"values":[30,60,90,120],"title":"Time (min)"}},
   "y":{"field":"v","type":"quantitative","scale":{"domain":[0,100],"nice":false},"axis":{"values":[0,20,40,60,80,100],"title":"ECAR (mpH/min)","titleY":120,"titleFontSize":15}}},
  "layer":[
   {"data":{"name":"bl"},"transform":[{"filter":"datum.p=='F'"}],"mark":{"type":"rule","color":"#3f87f5","strokeWidth":1.3,"strokeDash":[6,4]},"encoding":{"x2":{"field":"t2"}}},
   {"data":{"name":"ba"},"transform":[{"filter":"datum.p=='F'"}],"mark":{"type":"rule","color":"#3f87f5","strokeWidth":1.2},"encoding":{"y2":{"field":"v2"}}},
   {"data":{"name":"ba"},"transform":[{"filter":"datum.p=='F'"}],"mark":{"type":"point","shape":"M-0.5,1L0,0L0.5,1Z","filled":true,"color":"#3f87f5","size":100,"opacity":1}},
   {"data":{"name":"ba"},"transform":[{"filter":"datum.p=='F'"}],"mark":{"type":"point","shape":"M-0.5,-1L0,0L0.5,-1Z","filled":true,"color":"#3f87f5","size":100,"opacity":1},"encoding":{"y":{"field":"v2","type":"quantitative"}}},
   {"data":{"name":"bt"},"transform":[{"filter":"datum.p=='F'"}],"mark":{"type":"text","fontSize":11,"color":"#5b9cf6"},"encoding":{"text":{"field":"label"},"angle":{"field":"a","type":"quantitative","scale":null}}},
   {"data":{"name":"pts"},"transform":[{"filter":"datum.p=='F'"}],"mark":{"type":"errorbar","ticks":true,"size":7,"thickness":1,"color":"#555"},"encoding":{"yError":{"field":"e"}}},
   {"data":{"name":"pts"},"transform":[{"filter":"datum.p=='F'"}],"mark":{"type":"line","color":"#111","strokeWidth":1},"encoding":{"detail":{"field":"s"}}},
   {"data":{"name":"pts"},"transform":[{"filter":"datum.p=='F'"}],"mark":{"type":"point","filled":true,"stroke":"#000","strokeWidth":0.7,"opacity":1},"encoding":{"shape":{"field":"s","type":"nominal","scale":{"domain":["J","M","G"],"range":["circle","triangle-down","square"]},"legend":null},"fill":{"field":"s","type":"nominal","scale":{"domain":["J","M","G"],"range":["#000000","#ee1c1c","#33e833"]},"legend":null},"size":{"field":"s","type":"nominal","scale":{"domain":["J","M","G"],"range":[56,60,42]},"legend":null}}},
   {"data":{"name":"arr"},"transform":[{"filter":"datum.p=='F'"}],"mark":{"type":"rule","color":"#000","strokeWidth":1.2},"encoding":{"y2":{"field":"v2"}}},
   {"data":{"name":"arr"},"transform":[{"filter":"datum.p=='F'"}],"mark":{"type":"point","shape":"M-0.34,-1L0,0L0.34,-1","filled":false,"stroke":"#000","strokeWidth":1.2,"size":256,"opacity":1},"encoding":{"y":{"field":"v2","type":"quantitative"}}},
   {"data":{"name":"ann"},"transform":[{"filter":"datum.p=='F'"}],"mark":{"type":"text"},"encoding":{"text":{"field":"label"}}},
   {"data":{"name":"leg"},"mark":{"type":"point","filled":true,"clip":true,"strokeWidth":1,"size":64,"opacity":1},
    "encoding":{"shape":{"field":"s","type":"nominal","scale":{"domain":["JIMT-1","MCF-7","MDA MB 231"],"range":["M-3.6,0H-1M1,0H3.6M1,0A1,1,0,1,1,-1,0A1,1,0,1,1,1,0Z","M-3.6,0H-0.55M0.55,0H3.6M-1,-0.75L1,-0.75L0,0.95Z","M-3.6,0H-0.85M0.85,0H3.6M-0.85,-0.85H0.85V0.85H-0.85Z"]},
       "legend":{"title":null,"orient":"none","legendX":111,"legendY":177.5,"labelFontSize":12.5,"labelColor":"#111","labelOffset":18,"symbolSize":64,"symbolStrokeWidth":1,"rowPadding":-2.5}},
     "fill":{"field":"s","type":"nominal","scale":{"domain":["JIMT-1","MCF-7","MDA MB 231"],"range":["#000000","#ee1c1c","#33e833"]},
       "legend":{"title":null,"orient":"none","legendX":111,"legendY":177.5,"labelFontSize":12.5,"labelColor":"#111","labelOffset":18,"symbolSize":64,"symbolStrokeWidth":1,"rowPadding":-2.5}},
     "stroke":{"field":"s","type":"nominal","scale":{"domain":["JIMT-1","MCF-7","MDA MB 231"],"range":["#000000","#000000","#000000"]},
       "legend":{"title":null,"orient":"none","legendX":111,"legendY":177.5,"labelFontSize":12.5,"labelColor":"#111","labelOffset":18,"symbolSize":64,"symbolStrokeWidth":1,"rowPadding":-2.5}}}}
  ]}
 ]}
]
}
